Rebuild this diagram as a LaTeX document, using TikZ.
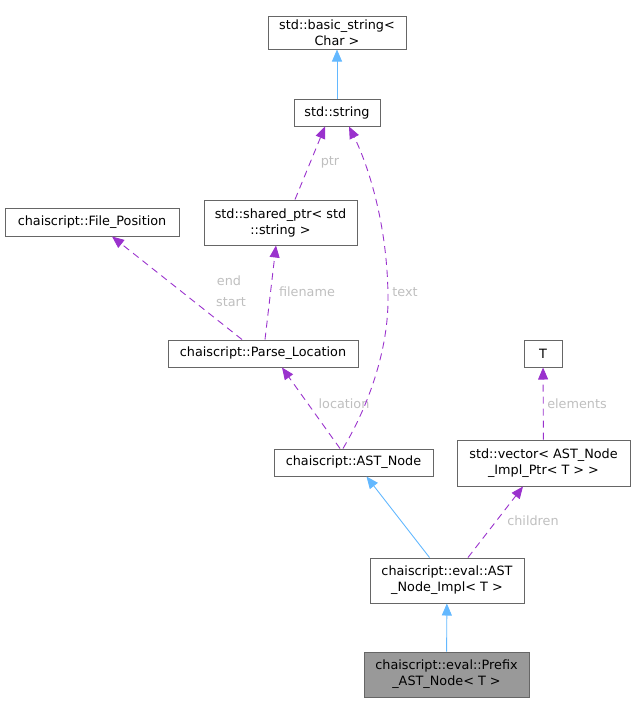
\documentclass[tikz,border=0pt]{standalone}
\usepackage{fontspec}
\setmainfont{DejaVu Sans}
\usetikzlibrary{arrows.meta}
\definecolor{edgeblue}{HTML}{63B8FF}
\definecolor{edgepurple}{HTML}{9A32CD}
\definecolor{boxgray}{HTML}{666666}
\definecolor{focusgray}{HTML}{999999}
\definecolor{lblgray}{HTML}{BFBFBF}
\tikzset{
    %Define standard arrow tip
    >={Triangle[length=12pt,width=10pt]},
    %Define style for class boxes
    cls/.style={
           rectangle,
           draw=boxgray, line width=1pt,
           inner sep=0pt,
           font=\fontsize{12.8}{16}\selectfont,
           align=center,
           fill=white},
    focus/.style={
           cls,
           fill=focusgray},
    %Define style for edge labels
    lbl/.style={
           font=\fontsize{12.8}{15}\selectfont,
           text=lblgray,
           inner sep=0pt},
    % Define arrow styles
    inh/.style={
           ->,
           draw=edgeblue, line width=0.9pt},
    usage/.style={
           ->,
           draw=edgepurple, line width=0.9pt,
           dash pattern=on 7pt off 5pt}
}
\begin{document}
\begin{tikzpicture}[x=1pt,y=-1pt]
\useasboundingbox (0,0) rectangle (634,702);
\node[cls, minimum width=138, minimum height=33](basic) at (337,32.5){std::basic\_string<\\Char >};
\node[cls, minimum width=86, minimum height=27](string) at (337,112.5){std::string};
\node[cls, minimum width=153, minimum height=45](shptr) at (280.5,222.5){std::shared\_ptr< std\\::string >};
\node[cls, minimum width=174, minimum height=28](filepos) at (92,222){chaiscript::File\_Position};
\node[cls, minimum width=190, minimum height=27](parseloc) at (263,353.5){chaiscript::Parse\_Location};
\node[cls, minimum width=38, minimum height=27](tparam) at (543,353.5){T};
\node[cls, minimum width=159, minimum height=27](astnode) at (353.5,462.5){chaiscript::AST\_Node};
\node[cls, minimum width=173, minimum height=46](vec) at (543.5,463){std::vector< AST\_Node\\\_Impl\_Ptr< T > >};
\node[cls, minimum width=154, minimum height=45](impl) at (447,580.5){chaiscript::eval::AST\\\_Node\_Impl< T >};
\node[focus, minimum width=165, minimum height=45](prefix) at (446.5,674.5){chaiscript::eval::Prefix\\\_AST\_Node< T >};
% edge labels
\node[lbl](lptr) at (330,162){ptr};
\node[lbl](ltext) at (405,292){text};
\node[lbl](lend) at (229,281){end};
\node[lbl](lstart) at (231,302){start};
\node[lbl](lfile) at (307,292){filename};
\node[lbl](lloc) at (344,404){location};
\node[lbl](lelem) at (577,404){elements};
\node[lbl](lchild) at (533,521){children};
\path
	(string) edge[inh] (basic)
	(impl.north west) ++(60,0) edge[inh] ([xshift=-67pt]astnode.south east)
	(prefix) edge[inh] (impl)
	([xshift=14.5pt]shptr.north) edge[usage] ([xshift=-12pt]string.south)
	([xshift=-21pt]parseloc.north) edge[usage] ([xshift=20pt]filepos.south)
	([xshift=2pt]parseloc.north) edge[usage] ([xshift=-4.5pt]shptr.south)
	([xshift=-13.5pt]astnode.north) edge[usage] ([xshift=19pt]parseloc.south)
	(vec) edge[usage] (tparam)
	([xshift=21pt]impl.north) edge[usage] ([xshift=-20.5pt]vec.south);
\draw[usage] ([xshift=-10.5pt]astnode.north) .. controls (372,400) and (388,345) .. (388,300)
	.. controls (388,225) and (368,165) .. ([xshift=12pt]string.south);
\end{tikzpicture}
\end{document}
